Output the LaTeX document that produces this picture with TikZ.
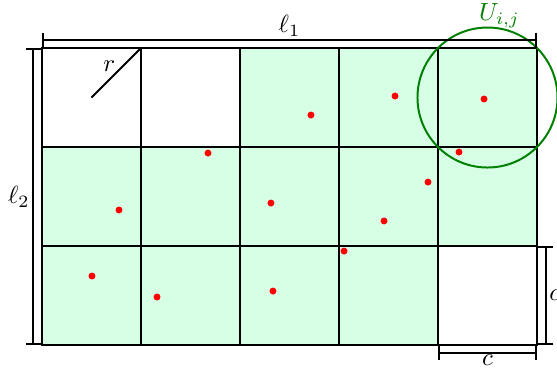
\documentclass[tikz,border=0pt]{standalone}
\usepackage{amsmath}
\usepackage{tikz}
\usetikzlibrary{arrows.meta,positioning,calc}
\definecolor{cellgreen}{RGB}{214,255,230}
\definecolor{ballgreen}{RGB}{0,128,0}

\begin{document}
\begin{tikzpicture}[
    x=1.4cm, y=1.4cm,
    cell/.style={draw, fill=cellgreen, line width=0.5pt},
    emptycell/.style={draw, fill=white, line width=0.5pt},
    dim/.style={{Bar[width=6pt]}-{Bar[width=6pt]}, line width=0.8pt},
    sample/.style={circle, fill=red, inner sep=0pt, minimum size=2.8pt},
    ball/.style={draw=ballgreen, line width=0.8pt},
    lab/.style={inner sep=1pt}
]
\useasboundingbox (-0.424,-0.222) rectangle (5.202,3.485);

% grid of cells
\foreach \i in {0,...,4}
  \foreach \j in {0,1,2}
    \draw[cell] (\i,\j) rectangle ++(1,1);
\foreach \i/\j in {0/2,1/2,4/0}
  \draw[emptycell] (\i,\j) rectangle ++(1,1);

% sample points
\foreach \x/\y [count=\k] in {1.677/1.939, 2.717/2.323, 3.566/2.515, 4.465/2.485,
    4.212/1.949, 3.899/1.646, 3.455/1.253, 3.051/0.949, 0.778/1.364,
    2.313/1.434, 0.505/0.697, 1.162/0.485, 2.333/0.545}
  \node[sample] (p\k) at (\x,\y) {};

% radius
\coordinate (ctr) at (0.5,2.5);
\coordinate (crn) at (1,3);
\draw[line width=0.8pt] (ctr) -- node[inner sep=0pt, pos=0.5, above left] (rlab) {$r$} (crn);

% ball U_{i,j}
\coordinate (uc) at (4.5,2.5);
\draw[ball] (uc) circle (0.7071);
\node[lab, text=ballgreen, anchor=base] (ulab) at ($(uc)+(0.12,0.78)$) {$U_{i,j}$};

% dimensions
\coordinate (t1) at (0,3.08);
\coordinate (t2) at (5,3.08);
\draw[dim] (t1) -- node[lab, above] (l1) {$\ell_1$} (t2);
\coordinate (s1) at (-0.09,3);
\coordinate (s2) at (-0.09,0);
\draw[dim] (s1) -- node[lab, left] (l2) {$\ell_2$} (s2);
\coordinate (b1) at (4,-0.08);
\coordinate (b2) at (5,-0.08);
\draw[dim] (b1) -- node[inner sep=0.5pt, below] (cb) {$c$} (b2);
\coordinate (r1) at (5.09,1);
\coordinate (r2) at (5.09,0);
\draw[dim] (r1) -- node[lab, right] (cr) {$c$} (r2);
\end{tikzpicture}
\end{document}
